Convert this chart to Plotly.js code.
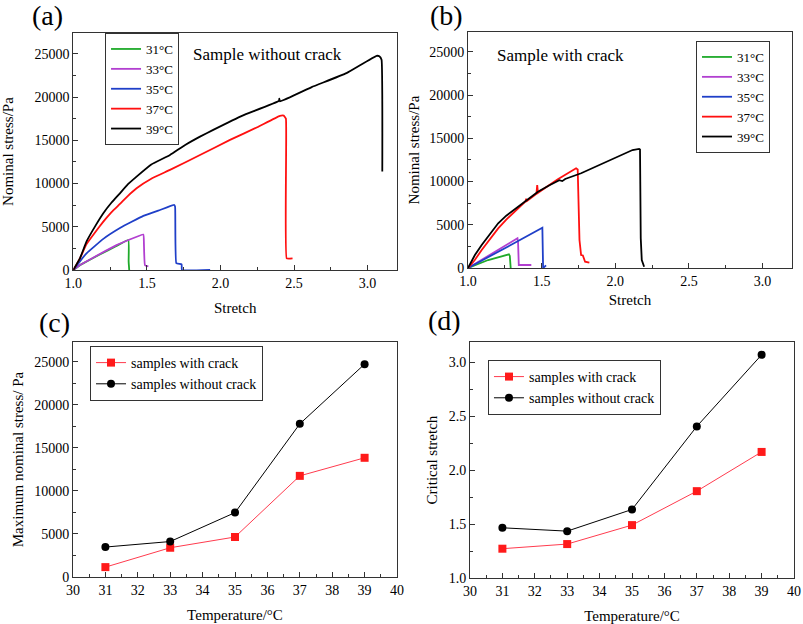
<!DOCTYPE html>
<html>
<head>
<meta charset="utf-8">
<script src="https://cdn.plot.ly/plotly-3.0.1.min.js"></script>
<style>html,body{margin:0;padding:0;background:#fff;}#chart{width:803px;height:624px;}</style>
</head>
<body>
<div id="chart"></div>
<script>
// ---- Panel (a): sample without crack ----
const a31_x = [1.0, 1.045, 1.07, 1.18, 1.29, 1.374, 1.376, 1.38];
const a31_y = [0, 560, 800, 1800, 2750, 3470, 1000, 0];
const a33_x = [1.0, 1.045, 1.07, 1.18, 1.29, 1.38, 1.476, 1.48, 1.487, 1.51];
const a33_y = [0, 570, 820, 1850, 2850, 3500, 4100, 3000, 550, 430];
const a35_x = [1.0, 1.045, 1.09, 1.204, 1.317, 1.40, 1.476, 1.589, 1.686, 1.692, 1.70, 1.736, 1.738, 1.93];
const a35_y = [0, 1000, 1930, 3600, 4850, 5600, 6250, 6940, 7520, 7300, 780, 660, 0, 0];
const a37_x = [1.0, 1.045, 1.09, 1.15, 1.204, 1.26, 1.317, 1.37, 1.43, 1.53, 1.657, 1.861, 2.065, 2.25, 2.404, 2.43, 2.445, 2.45, 2.49];
const a37_y = [0, 1350, 3000, 4400, 5590, 6700, 7636, 8550, 9450, 10550, 11570, 13300, 15040, 16500, 17820, 17850, 17500, 1350, 1350];
const a39_x = [1.0, 1.045, 1.09, 1.15, 1.204, 1.26, 1.317, 1.37, 1.43, 1.53, 1.657, 1.76, 1.861, 1.951, 2.15, 2.398, 2.40, 2.405, 2.62, 2.857, 3.061, 3.08, 3.095, 3.10];
const a39_y = [0, 1350, 3300, 5100, 6560, 7800, 8870, 9900, 10800, 12200, 13300, 14450, 15420, 16200, 17850, 19550, 19800, 19500, 21150, 22760, 24760, 24700, 24300, 11380];

// ---- Panel (b): sample with crack ----
const b31_x = [1.0, 1.137, 1.278, 1.284, 1.29];
const b31_y = [0, 925, 1585, 1400, 0];
const b33_x = [1.0, 1.10, 1.20, 1.336, 1.34, 1.345, 1.43];
const b33_y = [0, 1000, 2000, 3436, 3000, 347, 350];
const b35_x = [1.0, 1.10, 1.20, 1.30, 1.505, 1.508, 1.51, 1.53];
const b35_y = [0, 900, 1850, 2750, 4663, 3000, 0, 300];
const b37_x = [1.0, 1.045, 1.093, 1.15, 1.205, 1.26, 1.318, 1.39, 1.395, 1.40, 1.465, 1.47, 1.475, 1.54, 1.61, 1.734, 1.745, 1.757, 1.768, 1.78, 1.795, 1.824];
const b37_y = [0, 900, 2083, 3400, 4590, 5600, 6510, 7700, 8000, 7750, 8600, 9600, 8700, 9500, 10260, 11530, 11400, 3240, 1500, 1450, 730, 620];
const b39_x = [1.0, 1.047, 1.093, 1.15, 1.205, 1.26, 1.318, 1.40, 1.475, 1.55, 1.62, 1.64, 1.66, 1.768, 1.85, 1.937, 1.993, 2.06, 2.117, 2.162, 2.168, 2.173, 2.18, 2.196];
const b39_y = [0, 1500, 2660, 4000, 5170, 6050, 6790, 7900, 8830, 9550, 10150, 10050, 10300, 10960, 11600, 12230, 12690, 13200, 13650, 13770, 13700, 3436, 925, 150];

// ---- Panels (c) and (d): summary vs temperature ----
const temps = [31, 33, 35, 37, 39];
const maxStressWithCrack = [1150, 3400, 4650, 11750, 13850];
const maxStressWithoutCrack = [3480, 4120, 7480, 17790, 24730];
const critStretchWithCrack = [1.272, 1.315, 1.491, 1.806, 2.170];
const critStretchWithoutCrack = [1.466, 1.435, 1.636, 2.407, 3.071];

const tempLabels = ['31°C', '33°C', '35°C', '37°C', '39°C'];
const curveColors = ['#1faa2a', '#b23fd0', '#1f3fc8', '#ff1010', '#000000'];

const FONT = "'Liberation Serif', 'Times New Roman', serif";

const aX = [a31_x, a33_x, a35_x, a37_x, a39_x];
const aY = [a31_y, a33_y, a35_y, a37_y, a39_y];
const bX = [b31_x, b33_x, b35_x, b37_x, b39_x];
const bY = [b31_y, b33_y, b35_y, b37_y, b39_y];

const traces = [];
for (let i = 0; i < 5; i++) {
  traces.push({x: aX[i], y: aY[i], type: 'scatter', mode: 'lines', name: tempLabels[i],
    line: {color: curveColors[i], width: 1.8, shape: 'spline', smoothing: 0.3}, xaxis: 'x', yaxis: 'y', legend: 'legend'});
}
for (let i = 0; i < 5; i++) {
  traces.push({x: bX[i], y: bY[i], type: 'scatter', mode: 'lines', name: tempLabels[i],
    line: {color: curveColors[i], width: 1.8}, xaxis: 'x2', yaxis: 'y2', legend: 'legend2'});
}
traces.push({x: temps, y: maxStressWithCrack, type: 'scatter', mode: 'lines+markers', name: 'samples with crack',
  line: {color: '#ff3b4e', width: 1}, marker: {symbol: 'square', size: 8, color: '#ff1a1a'},
  xaxis: 'x3', yaxis: 'y3', legend: 'legend3'});
traces.push({x: temps, y: maxStressWithoutCrack, type: 'scatter', mode: 'lines+markers', name: 'samples without crack',
  line: {color: '#000', width: 1}, marker: {symbol: 'circle', size: 8, color: '#000'},
  xaxis: 'x3', yaxis: 'y3', legend: 'legend3'});
traces.push({x: temps, y: critStretchWithCrack, type: 'scatter', mode: 'lines+markers', name: 'samples with crack',
  line: {color: '#ff3b4e', width: 1}, marker: {symbol: 'square', size: 8, color: '#ff1a1a'},
  xaxis: 'x4', yaxis: 'y4', legend: 'legend4'});
traces.push({x: temps, y: critStretchWithoutCrack, type: 'scatter', mode: 'lines+markers', name: 'samples without crack',
  line: {color: '#000', width: 1}, marker: {symbol: 'circle', size: 8, color: '#000'},
  xaxis: 'x4', yaxis: 'y4', legend: 'legend4'});

function ax(domain, range, tick0, dtick, minorDtick, title, standoff, anchor, fmt) {
  return {
    domain: domain, range: range, tick0: tick0, dtick: dtick, tickformat: fmt,
    ticks: 'inside', ticklen: 5, tickwidth: 1, tickcolor: '#333',
    minor: {tick0: tick0, dtick: minorDtick, ticks: 'inside', ticklen: 3, tickcolor: '#333', showgrid: false},
    showline: true, linecolor: '#333', linewidth: 1, mirror: true,
    showgrid: false, zeroline: false, anchor: anchor,
    tickfont: {family: FONT, size: 14, color: '#000'},
    title: {text: title, font: {family: FONT, size: 15, color: '#000'}, standoff: standoff},
    automargin: false
  };
}

function legendBox(x, y, xanchor, size) {
  return {x: x, y: y, xanchor: xanchor || 'left', yanchor: 'top', bgcolor: '#fff', bordercolor: '#333', borderwidth: 1,
    font: {family: FONT, size: size || 14, color: '#000'}, tracegroupgap: 0, itemwidth: 30};
}

const layout = {
  width: 803, height: 624, margin: {l: 0, r: 0, t: 0, b: 0},
  paper_bgcolor: '#fff', plot_bgcolor: '#fff', showlegend: true,
  font: {family: FONT},
  xaxis:  ax([0.0913, 0.4944], [1.0, 3.2], 1, 0.5, 0.25, 'Stretch', 12, 'y', '.1f'),
  yaxis:  ax([0.5673, 0.9471], [0, 27400], 0, 5000, 2500, 'Nominal stress/Pa', 19, 'x', 'd'),
  xaxis2: ax([0.5828, 0.9863], [1.0, 3.2], 1, 0.5, 0.25, 'Stretch', 6, 'y2', '.1f'),
  yaxis2: ax([0.5705, 0.9487], [0, 27300], 0, 5000, 2500, 'Nominal stress/Pa', 5, 'x2', 'd'),
  xaxis3: ax([0.0909, 0.4944], [30, 40], 30, 1, 0.5, 'Temperature/°C', 12, 'y3', 'd'),
  yaxis3: ax([0.0753, 0.4519], [0, 27300], 0, 5000, 2500, 'Maximum nominal stress/ Pa', 6, 'x3', 'd'),
  xaxis4: ax([0.5853, 0.9888], [30, 40], 30, 1, 0.5, 'Temperature/°C', 14, 'y4', 'd'),
  yaxis4: ax([0.0737, 0.4519], [1.0, 3.19], 1, 0.5, 0.25, 'Critical stretch', 7, 'x4', '.1f'),
  legend:  legendBox(0.1308, 0.9471, 'left', 13),
  legend2: legendBox(770/803, 0.9343, 'right', 13),
  legend3: legendBox(0.1121, 0.4455, 'left', 14),
  legend4: legendBox(0.6077, 0.4231, 'left', 14),
  annotations: [
    {text: 'Sample without crack', xref: 'x', yref: 'y', x: 2.32, y: 24880, showarrow: false,
      font: {family: FONT, size: 17, color: '#000'}},
    {text: 'Sample with crack', xref: 'x2', yref: 'y2', x: 1.63, y: 24640, showarrow: false,
      font: {family: FONT, size: 17, color: '#000'}},
    {text: '(a)', xref: 'paper', yref: 'paper', x: 47/803, y: 1 - 15/624, xanchor: 'center', yanchor: 'middle', showarrow: false,
      font: {family: FONT, size: 28, color: '#000'}},
    {text: '(b)', xref: 'paper', yref: 'paper', x: 446/803, y: 1 - 15/624, xanchor: 'center', yanchor: 'middle', showarrow: false,
      font: {family: FONT, size: 28, color: '#000'}},
    {text: '(c)', xref: 'paper', yref: 'paper', x: 54/803, y: 1 - 322/624, xanchor: 'center', yanchor: 'middle', showarrow: false,
      font: {family: FONT, size: 28, color: '#000'}},
    {text: '(d)', xref: 'paper', yref: 'paper', x: 444/803, y: 1 - 321/624, xanchor: 'center', yanchor: 'middle', showarrow: false,
      font: {family: FONT, size: 28, color: '#000'}}
  ]
};

Plotly.newPlot('chart', traces, layout, {displayModeBar: false, staticPlot: true});
</script>
</body>
</html>
